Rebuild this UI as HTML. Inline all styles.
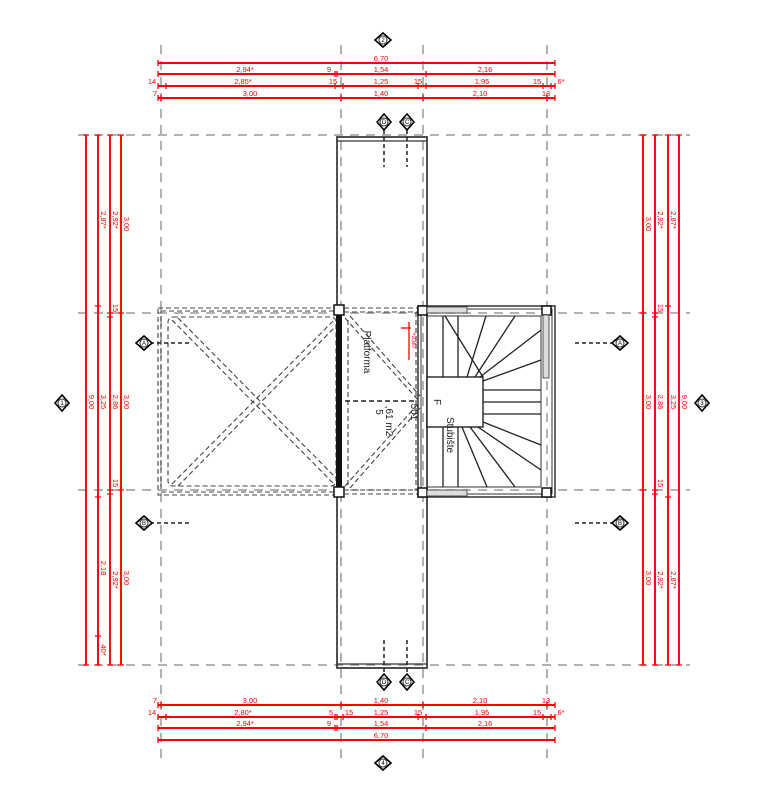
<!DOCTYPE html>
<html><head><meta charset="utf-8"><style>
html,body{margin:0;padding:0;background:#fff;}
svg{display:block;}
text{font-family:"Liberation Sans",sans-serif;}
.r{stroke:#ff0000;stroke-width:1.9;fill:none;}
.t{stroke:#ff0000;stroke-width:1.3;}
.rt{fill:#ff0000;font-size:7.5px;}
.g{stroke:#999;stroke-width:1.5;stroke-dasharray:9,7;fill:none;}
.d{stroke:#444;stroke-width:1.1;stroke-dasharray:5,3;fill:none;}
.k{stroke:#222;stroke-width:1.3;fill:none;}
.mk{fill:#fff;stroke:#000;stroke-width:1.6;}
.mt{font-size:6px;fill:#000;text-anchor:middle;}
</style></head><body>
<svg width="769" height="800" viewBox="0 0 769 800" xmlns="http://www.w3.org/2000/svg">
<g class="g">
<line x1="161" y1="45" x2="161" y2="760"/>
<line x1="341" y1="45" x2="341" y2="760"/>
<line x1="423" y1="45" x2="423" y2="760"/>
<line x1="547" y1="45" x2="547" y2="760"/>
<line x1="78" y1="135" x2="690" y2="135"/>
<line x1="78" y1="313" x2="690" y2="313"/>
<line x1="78" y1="490" x2="690" y2="490"/>
<line x1="78" y1="665" x2="690" y2="665"/>
</g>

<g class="r">
<line x1="158" y1="63" x2="555" y2="63"/>
<line x1="158" y1="74" x2="555" y2="74"/>
<line x1="158" y1="86" x2="555" y2="86"/>
<line x1="158" y1="98" x2="555" y2="98"/>
<line x1="158" y1="705" x2="555" y2="705"/>
<line x1="158" y1="717" x2="555" y2="717"/>
<line x1="158" y1="728" x2="555" y2="728"/>
<line x1="158" y1="740" x2="555" y2="740"/>
</g>
<g class="t">
<path d="M158 60v6M555 60v6"/>
<path d="M158 71v6M335 71v6M337 71v6M426 71v6M555 71v6"/>
<path d="M158 83v6M166 83v6M335 83v6M343 83v6M418 83v6M426 83v6M543 83v6M551 83v6M555 83v6"/>
<path d="M158 95v6M161 95v6M341 95v6M423 95v6M547 95v6M555 95v6"/>
<path d="M158 702v6M161 702v6M341 702v6M423 702v6M547 702v6M555 702v6"/>
<path d="M158 714v6M166 714v6M335 714v6M337 714v6M343 714v6M418 714v6M426 714v6M543 714v6M551 714v6M555 714v6"/>
<path d="M158 725v6M335 725v6M337 725v6M426 725v6M555 725v6"/>
<path d="M158 737v6M555 737v6"/>
</g>
<g class="rt" text-anchor="middle">
<text x="381" y="61">6,70</text>
<text x="245" y="72">2,94*</text><text x="329" y="72">9</text><text x="381" y="72">1,54</text><text x="485" y="72">2,16</text>
<text x="152" y="84">14</text><text x="243" y="84">2,85*</text><text x="333" y="84">15</text><text x="381" y="84">1,25</text><text x="418" y="84">15</text><text x="482" y="84">1,95</text><text x="537" y="84">15</text><text x="561" y="84">6*</text>
<text x="155" y="96">7</text><text x="250" y="96">3,00</text><text x="381" y="96">1,40</text><text x="480" y="96">2,10</text><text x="546" y="96">13</text>
<text x="155" y="703">7</text><text x="250" y="703">3,00</text><text x="381" y="703">1,40</text><text x="480" y="703">2,10</text><text x="546" y="703">13</text>
<text x="152" y="715">14</text><text x="243" y="715">2,80*</text><text x="331" y="715">5</text><text x="349" y="715">15</text><text x="381" y="715">1,25</text><text x="418" y="715">15</text><text x="482" y="715">1,95</text><text x="537" y="715">15</text><text x="561" y="715">6*</text>
<text x="245" y="726">2,94*</text><text x="329" y="726">9</text><text x="381" y="726">1,54</text><text x="485" y="726">2,16</text>
<text x="381" y="738">6,70</text>
</g>

<g class="r">
<line x1="86" y1="135" x2="86" y2="665"/>
<line x1="98" y1="135" x2="98" y2="665"/>
<line x1="110" y1="135" x2="110" y2="665"/>
<line x1="121" y1="135" x2="121" y2="665"/>
<line x1="643" y1="135" x2="643" y2="665"/>
<line x1="655" y1="135" x2="655" y2="665"/>
<line x1="668" y1="135" x2="668" y2="665"/>
<line x1="679" y1="135" x2="679" y2="665"/>
</g>
<g class="t">
<path d="M83 135h6M83 665h6"/>
<path d="M95 135h6M95 306h6M95 497h6M95 636h6M95 665h6"/>
<path d="M107 135h6M107 313h6M107 317h6M107 490h6M107 494h6M107 665h6"/>
<path d="M118 135h6M118 313h6M118 490h6M118 665h6"/>
<path d="M640 135h6M640 313h6M640 490h6M640 665h6"/>
<path d="M652 135h6M652 313h6M652 317h6M652 490h6M652 494h6M652 665h6"/>
<path d="M665 135h6M665 306h6M665 497h6M665 665h6"/>
<path d="M676 135h6M676 665h6"/>
</g>
<g class="rt" text-anchor="middle">
<text transform="translate(89,402) rotate(90)">9,00</text>
<text transform="translate(101,220) rotate(90)">2,87*</text>
<text transform="translate(101,402) rotate(90)">3,25</text>
<text transform="translate(101,568) rotate(90)">2,18</text>
<text transform="translate(101,650) rotate(90)">40*</text>
<text transform="translate(113,220) rotate(90)">2,92*</text>
<text transform="translate(113,308) rotate(90)">15</text>
<text transform="translate(113,402) rotate(90)">2,86</text>
<text transform="translate(113,483) rotate(90)">15</text>
<text transform="translate(113,580) rotate(90)">2,92*</text>
<text transform="translate(124,224) rotate(90)">3,00</text>
<text transform="translate(124,402) rotate(90)">3,00</text>
<text transform="translate(124,578) rotate(90)">3,00</text>
<text transform="translate(646,224) rotate(90)">3,00</text>
<text transform="translate(646,402) rotate(90)">3,00</text>
<text transform="translate(646,578) rotate(90)">3,00</text>
<text transform="translate(658,220) rotate(90)">2,92*</text>
<text transform="translate(658,308) rotate(90)">15</text>
<text transform="translate(658,402) rotate(90)">2,86</text>
<text transform="translate(658,483) rotate(90)">15</text>
<text transform="translate(658,580) rotate(90)">2,92*</text>
<text transform="translate(671,220) rotate(90)">2,87*</text>
<text transform="translate(671,402) rotate(90)">3,25</text>
<text transform="translate(671,580) rotate(90)">2,87*</text>
<text transform="translate(682,402) rotate(90)">9,00</text>
</g>

<rect x="337" y="137" width="90" height="531" fill="none" stroke="#333" stroke-width="1.7"/>
<line x1="337" y1="141" x2="427" y2="141" stroke="#333" stroke-width="1.3"/>
<line x1="337" y1="664" x2="427" y2="664" stroke="#333" stroke-width="1.3"/>
<g stroke="#222" stroke-width="1.5" stroke-dasharray="4,3">
<line x1="384" y1="130" x2="384" y2="167"/><line x1="407" y1="130" x2="407" y2="167"/>
<line x1="384" y1="640" x2="384" y2="676"/><line x1="407" y1="640" x2="407" y2="676"/>
</g>

<rect x="158" y="308" width="180" height="187" class="d"/>
<rect x="161" y="311" width="176" height="181" class="d"/>
<rect x="168" y="317" width="168" height="169" rx="5" class="d"/>
<g class="d">
<line x1="172" y1="320" x2="334" y2="484"/><line x1="178" y1="318" x2="336" y2="478"/>
<line x1="172" y1="484" x2="334" y2="320"/><line x1="178" y1="486" x2="336" y2="326"/>
</g>
<rect x="336" y="305" width="6" height="192" fill="#111"/>
<rect x="334" y="305" width="10" height="10" fill="#fff" stroke="#111" stroke-width="1.5"/>
<rect x="334" y="487" width="10" height="10" fill="#fff" stroke="#111" stroke-width="1.5"/>

<g class="d">
<line x1="344" y1="308" x2="418" y2="308"/><line x1="344" y1="312" x2="418" y2="312"/>
<line x1="344" y1="490" x2="418" y2="490"/><line x1="344" y1="494" x2="418" y2="494"/>
<line x1="416" y1="312" x2="416" y2="490"/>
<line x1="345" y1="318" x2="418" y2="400"/><line x1="350" y1="316" x2="420" y2="396"/>
<line x1="345" y1="486" x2="418" y2="404"/><line x1="350" y1="488" x2="420" y2="408"/>
<line x1="348" y1="320" x2="348" y2="486"/>
</g>
<line x1="345" y1="401" x2="416" y2="401" stroke="#222" stroke-width="1.6" stroke-dasharray="5,3"/>
<text transform="translate(364,352) rotate(90)" font-size="10" fill="#222" text-anchor="middle">Platforma</text>
<text transform="translate(376,412) rotate(90)" font-size="10" fill="#222" text-anchor="middle">5</text>
<text transform="translate(386,421) rotate(90)" font-size="10" fill="#222" text-anchor="middle">,61 m2</text>
<text transform="translate(411,412) rotate(90)" font-size="10" fill="#222" text-anchor="middle">501</text>
<g stroke="#ff0000" stroke-width="1.3"><line x1="401" y1="328" x2="411" y2="328"/><line x1="409" y1="322" x2="409" y2="360"/></g>
<text transform="translate(412,340) rotate(90)" font-size="6" fill="#ff0000" text-anchor="middle">+2,80</text>

<rect x="418" y="306" width="137" height="191" fill="none" stroke="#333" stroke-width="1.5"/>
<rect x="421" y="309" width="131" height="185" fill="none" stroke="#333" stroke-width="1"/>
<rect x="418" y="306" width="9" height="9" fill="#fff" stroke="#111" stroke-width="1.5"/>
<rect x="418" y="488" width="9" height="9" fill="#fff" stroke="#111" stroke-width="1.5"/>
<rect x="542" y="306" width="9" height="9" fill="#fff" stroke="#111" stroke-width="1.5"/>
<rect x="542" y="488" width="9" height="9" fill="#fff" stroke="#111" stroke-width="1.5"/>
<rect x="427" y="307" width="40" height="6" fill="#ddd" stroke="#333" stroke-width="0.8"/>
<rect x="427" y="490" width="40" height="6" fill="#ddd" stroke="#333" stroke-width="0.8"/>
<rect x="543" y="315" width="6" height="63" fill="#ddd" stroke="#333" stroke-width="0.8"/>
<line x1="427" y1="316" x2="541" y2="316" stroke="#333"/>
<line x1="427" y1="487" x2="541" y2="487" stroke="#333"/>
<line x1="541" y1="316" x2="541" y2="487" stroke="#333"/>
<line x1="427" y1="316" x2="427" y2="487" stroke="#333"/>
<rect x="427" y="377" width="56" height="50" fill="#fff" stroke="#222" stroke-width="1.4"/>
<g class="k">
<line x1="443" y1="316" x2="443" y2="377"/><line x1="458" y1="316" x2="458" y2="377"/>
<line x1="443" y1="427" x2="443" y2="487"/><line x1="458" y1="427" x2="458" y2="487"/>
<line x1="445" y1="316" x2="483" y2="377"/>
<line x1="486" y1="316" x2="467" y2="377"/>
<line x1="515" y1="316" x2="475" y2="377"/>
<line x1="541" y1="330" x2="480" y2="377"/>
<line x1="541" y1="360" x2="483" y2="381"/>
<line x1="483" y1="390" x2="541" y2="390"/>
<line x1="483" y1="402" x2="541" y2="402"/>
<line x1="483" y1="414" x2="541" y2="414"/>
<line x1="483" y1="422" x2="541" y2="445"/>
<line x1="478" y1="427" x2="541" y2="470"/>
<line x1="470" y1="427" x2="515" y2="487"/>
<line x1="462" y1="427" x2="487" y2="487"/>
</g>
<text transform="translate(447,435) rotate(90)" font-size="10" fill="#222" text-anchor="middle">Stubište</text>
<text transform="translate(434,402) rotate(90)" font-size="10" fill="#222" text-anchor="middle">F</text>

<g stroke="#222" stroke-width="1.5" stroke-dasharray="4,3">
<line x1="150" y1="343" x2="190" y2="343"/><line x1="150" y1="523" x2="190" y2="523"/>
<line x1="575" y1="343" x2="615" y2="343"/><line x1="575" y1="523" x2="615" y2="523"/>
</g>

<g>
<g transform="translate(383,40)"><path d="M-8 0L0-7L8 0L0 7Z" class="mk"/><circle r="4" fill="#fff" stroke="#333"/><text y="2" class="mt">2</text></g>
<g transform="translate(383,763)"><path d="M-8 0L0-7L8 0L0 7Z" class="mk"/><circle r="4" fill="#fff" stroke="#333"/><text y="2" class="mt">4</text></g>
<g transform="translate(62,403)"><path d="M-7 0L0-8L7 0L0 8Z" class="mk"/><circle r="4" fill="#fff" stroke="#333"/><text y="2" class="mt">1</text></g>
<g transform="translate(702,403)"><path d="M-7 0L0-8L7 0L0 8Z" class="mk"/><circle r="4" fill="#fff" stroke="#333"/><text y="2" class="mt">3</text></g>
<g transform="translate(144,343)"><path d="M-8 0L0-7L8 0L0 7Z" class="mk"/><circle r="4" fill="#fff" stroke="#333"/><text y="2" class="mt">A</text></g>
<g transform="translate(620,343)"><path d="M-8 0L0-7L8 0L0 7Z" class="mk"/><circle r="4" fill="#fff" stroke="#333"/><text y="2" class="mt">A</text></g>
<g transform="translate(144,523)"><path d="M-8 0L0-7L8 0L0 7Z" class="mk"/><circle r="4" fill="#fff" stroke="#333"/><text y="2" class="mt">B</text></g>
<g transform="translate(620,523)"><path d="M-8 0L0-7L8 0L0 7Z" class="mk"/><circle r="4" fill="#fff" stroke="#333"/><text y="2" class="mt">B</text></g>
<g transform="translate(384,122)"><path d="M-7 0L0-8L7 0L0 8Z" class="mk"/><circle r="4" fill="#fff" stroke="#333"/><text y="2" class="mt">D</text></g>
<g transform="translate(407,122)"><path d="M-7 0L0-8L7 0L0 8Z" class="mk"/><circle r="4" fill="#fff" stroke="#333"/><text y="2" class="mt">C</text></g>
<g transform="translate(384,682)"><path d="M-7 0L0-8L7 0L0 8Z" class="mk"/><circle r="4" fill="#fff" stroke="#333"/><text y="2" class="mt">D</text></g>
<g transform="translate(407,682)"><path d="M-7 0L0-8L7 0L0 8Z" class="mk"/><circle r="4" fill="#fff" stroke="#333"/><text y="2" class="mt">C</text></g>
</g>
</svg>
</body></html>
